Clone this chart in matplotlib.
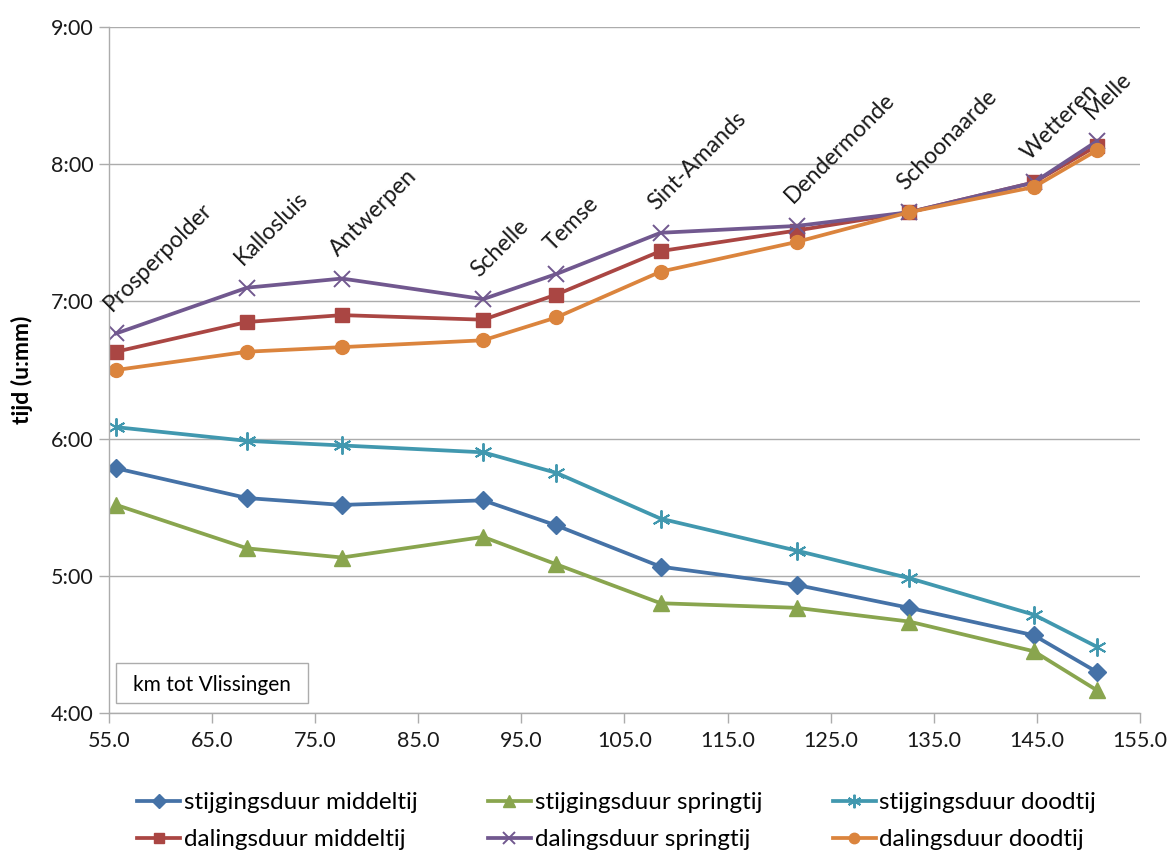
import numpy as np
import matplotlib.pyplot as plt
from matplotlib.ticker import FuncFormatter, MultipleLocator, FixedLocator
from matplotlib.patches import Rectangle

plt.rcParams['font.family'] = ['Lato', 'DejaVu Sans']

# afstand tot Vlissingen (km) per meetpost
stations = ["Prosperpolder", "Kallosluis", "Antwerpen", "Schelle", "Temse",
            "Sint-Amands", "Dendermonde", "Schoonaarde", "Wetteren", "Melle"]
km = [55.7, 68.4, 77.6, 91.3, 98.4, 108.5, 121.7, 132.6, 144.7, 150.8]

# duur in u:mm
stijg_middeltij = ["5:47", "5:34", "5:31", "5:33", "5:22", "5:04", "4:56", "4:46", "4:34", "4:18"]
stijg_springtij = ["5:31", "5:12", "5:08", "5:17", "5:05", "4:48", "4:46", "4:40", "4:27", "4:10"]
stijg_doodtij = ["6:05", "5:59", "5:57", "5:54", "5:45", "5:25", "5:11", "4:59", "4:43", "4:29"]
dal_middeltij = ["6:38", "6:51", "6:54", "6:52", "7:03", "7:22", "7:31", "7:39", "7:52", "8:08"]
dal_springtij = ["6:46", "7:06", "7:10", "7:01", "7:12", "7:30", "7:33", "7:39", "7:52", "8:10"]
dal_doodtij = ["6:30", "6:38", "6:40", "6:43", "6:53", "7:13", "7:26", "7:39", "7:50", "8:06"]


def uren(tijden):
    return np.array([int(t.split(":")[0]) + int(t.split(":")[1]) / 60 for t in tijden])


def fmt_tijd(v, pos):
    u = int(v)
    m = int(round((v - u) * 60))
    return "%d:%02d" % (u, m)


fig = plt.figure(figsize=(11.73, 8.55), dpi=100)
ax = fig.add_axes([109 / 1173, 1 - 713 / 855, 1031 / 1173, 686 / 855])

lw = 2.7
reeksen = [
    (stijg_middeltij, "stijgingsduur middeltij", "#4572A7", dict(marker="D", markersize=9)),
    (dal_middeltij, "dalingsduur middeltij", "#AA4643", dict(marker="s", markersize=10)),
    (stijg_springtij, "stijgingsduur springtij", "#89A54E", dict(marker="^", markersize=11)),
    (dal_springtij, "dalingsduur springtij", "#71588F", dict(marker="x", markersize=11, markeredgewidth=1.4)),
    (stijg_doodtij, "stijgingsduur doodtij", "#4198AF", dict(marker=(6, 2, 0), markersize=13, markeredgewidth=1.4)),
    (dal_doodtij, "dalingsduur doodtij", "#DB843D", dict(marker="o", markersize=10)),
]

handles = []
for tijden, naam, kleur, mk in reeksen:
    h, = ax.plot(km, uren(tijden), color=kleur, lw=lw, label=naam,
                 markerfacecolor=kleur, markeredgecolor=kleur, **mk)
    handles.append(h)

# namen van de meetposten boven de bovenste lijn
top = uren(dal_springtij)
for naam, x, y in zip(stations, km, top):
    ax.annotate(naam, (x, y), xytext=(-3, 15.5), textcoords="offset points",
                rotation=45, rotation_mode="anchor", ha="left", va="baseline",
                fontsize=16.5, color="#1a1a1a")

ax.set_xlim(55, 155)
ax.set_ylim(4, 9)
ax.xaxis.set_major_locator(FixedLocator(np.arange(55, 156, 10)))
ax.xaxis.set_major_formatter(FuncFormatter(lambda v, p: "%.1f" % v))
ax.yaxis.set_major_locator(MultipleLocator(1))
ax.yaxis.set_major_formatter(FuncFormatter(fmt_tijd))

ax.grid(axis="y", color="#acacac", lw=1)
ax.set_axisbelow(True)
for s in ["top", "right"]:
    ax.spines[s].set_visible(False)
for s in ["left", "bottom"]:
    ax.spines[s].set_color("#acacac")
    ax.spines[s].set_linewidth(1)
ax.tick_params(axis="both", colors="#acacac", labelcolor="#1a1a1a",
               labelsize=15.5, length=7, width=1, direction="out")
ax.tick_params(axis="x", pad=6)
ax.tick_params(axis="y", pad=4)

fig.text(22 / 1173, 1 - 370 / 855, "tijd (u:mm)", rotation=90, fontsize=16.5,
         fontweight="bold", ha="center", va="center")

# kader met as-titel
fig.add_artist(Rectangle((116 / 1173, 1 - 703 / 855), 192 / 1173, 40 / 855,
                         transform=fig.transFigure, facecolor="white",
                         edgecolor="#acacac", lw=1, zorder=5))
fig.text(212 / 1173, 1 - 685 / 855, "km tot Vlissingen", fontsize=15,
         ha="center", va="center", zorder=6)

fig.legend(handles=handles, loc="upper left", bbox_to_anchor=(137 / 1173, 1 - 792 / 855),
           ncol=3, frameon=False, fontsize=17.5, handlelength=1.77, handletextpad=0.15,
           columnspacing=2.9, labelspacing=0.66, borderpad=0, borderaxespad=0,
           markerscale=0.75)

fig.savefig("out.png", dpi=100)
